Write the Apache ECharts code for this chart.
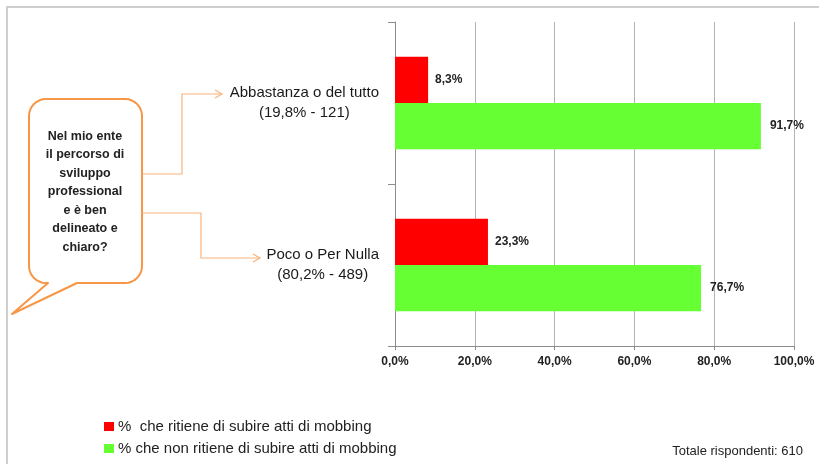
<!DOCTYPE html>
<html>
<head>
<meta charset="utf-8">
<script src="https://cdn.jsdelivr.net/npm/echarts@6/dist/echarts.min.js"></script>
<style>
html,body{margin:0;padding:0;background:#fff;}
#c{width:819px;height:464px;}
</style>
</head>
<body>
<div id="c"></div>
<script>
var categories = ['Abbastanza o del tutto', 'Poco o Per Nulla'];
var categorySub = ['(19,8% - 121)', '(80,2% - 489)'];
var seriesNames = ['%  che ritiene di subire atti di mobbing', '% che non ritiene di subire atti di mobbing'];
var mobbingYes = [8.3, 23.3];
var mobbingNo = [91.7, 76.7];
var xTicks = [0, 20, 40, 60, 80, 100];
var bubbleText = ['Nel mio ente', 'il percorso di', 'sviluppo', 'professional', 'e è ben', 'delineato e', 'chiaro?'];
var totalText = 'Totale rispondenti: 610';

var FONT = 'Liberation Sans, Arial, sans-serif';
var ORANGE = '#F79646';
var LINEOR = '#F9B37A';

function fmtPct(v) { return v.toFixed(1).replace('.', ',') + '%'; }

var labelsFull = categories.map(function (c, i) { return c + '\n' + categorySub[i]; });

// speech bubble outline (rounded rect + tail)
function bubblePoints(x0, y0, x1, y1, r, tail) {
  var pts = [];
  function arc(cx, cy, a0, a1) {
    var n = 8;
    for (var k = 0; k <= n; k++) {
      var a = a0 + (a1 - a0) * k / n;
      pts.push([cx + r * Math.cos(a), cy + r * Math.sin(a)]);
    }
  }
  var P = Math.PI;
  arc(x0 + r, y0 + r, P, 1.5 * P);
  arc(x1 - r, y0 + r, 1.5 * P, 2 * P);
  arc(x1 - r, y1 - r, 0, 0.5 * P);
  pts.push([tail[2], y1]);
  pts.push([tail[0], tail[1]]);
  pts.push([tail[3], y1]);
  arc(x0 + r, y1 - r, 0.5 * P, P);
  return pts;
}

var chart = echarts.init(document.getElementById('c'), null, {renderer: 'canvas'});

function arrow(x, y) {
  return {
    type: 'polyline', silent: true,
    shape: {points: [[x - 7, y - 4], [x, y], [x - 7, y + 4]]},
    style: {stroke: LINEOR, lineWidth: 1.2, fill: null}
  };
}

var option = {
  backgroundColor: '#fff',
  animation: false,
  textStyle: {fontFamily: FONT},
  grid: {left: 395, right: 25, top: 22, bottom: 118, containLabel: false},
  legend: {
    orient: 'vertical',
    left: 99,
    top: 414,
    itemGap: 7,
    icon: 'rect',
    itemWidth: 10,
    itemHeight: 9,
    data: seriesNames,
    textStyle: {fontSize: 15, color: '#222', fontFamily: FONT, padding: [0, 0, 0, -1]},
    selectedMode: false
  },
  xAxis: {
    type: 'value',
    min: xTicks[0],
    max: xTicks[xTicks.length - 1],
    interval: 20,
    axisLine: {show: true, lineStyle: {color: '#8c8c8c', width: 1}},
    axisTick: {show: true, length: 4, lineStyle: {color: '#8c8c8c'}},
    splitLine: {show: true, lineStyle: {color: '#b4b4b4', width: 1}},
    axisLabel: {
      formatter: function (v) { return fmtPct(v); },
      fontSize: 12, fontWeight: 'bold', color: '#222', margin: 10, fontFamily: FONT
    }
  },
  yAxis: {
    type: 'category',
    inverse: true,
    data: labelsFull,
    axisLine: {show: true, lineStyle: {color: '#8c8c8c', width: 1}},
    axisTick: {show: true, length: 7, lineStyle: {color: '#8c8c8c'}},
    axisLabel: {
      margin: 16,
      align: 'right',
      color: '#222',
      fontFamily: FONT,
      formatter: function (v) {
        var parts = v.split('\n');
        return '{a|' + parts[0] + '}\n{a|' + parts[1] + '}';
      },
      rich: {a: {align: 'center', fontSize: 15, lineHeight: 20, color: '#1a1a1a', fontFamily: FONT}}
    }
  },
  series: [
    {
      name: seriesNames[0], type: 'bar', data: mobbingYes,
      itemStyle: {color: '#FF0000'},
      barGap: '0%', barCategoryGap: '43%',
      label: {show: true, position: 'right', distance: 7, formatter: function (p) { return fmtPct(p.value); },
        fontSize: 12, fontWeight: 'bold', color: '#222', fontFamily: FONT}
    },
    {
      name: seriesNames[1], type: 'bar', data: mobbingNo,
      itemStyle: {color: '#66FF33'},
      barGap: '0%', barCategoryGap: '43%',
      label: {show: true, position: 'right', distance: 9, formatter: function (p) { return fmtPct(p.value); },
        fontSize: 12, fontWeight: 'bold', color: '#222', fontFamily: FONT}
    }
  ],
  graphic: [
    {
      type: 'rect', silent: true, z: -10,
      shape: {x: 7, y: 7, width: 840, height: 480},
      style: {fill: null, stroke: '#cfcfcf', lineWidth: 2}
    },
    {
      type: 'polygon', silent: true,
      shape: {points: bubblePoints(29, 99, 142, 283, 17, [12, 314, 77, 48])},
      style: {fill: '#fff', stroke: ORANGE, lineWidth: 2, lineJoin: 'round'}
    },
    {
      type: 'text', silent: true,
      x: 85, y: 127,
      style: {
        text: bubbleText.join('\n'),
        align: 'center', verticalAlign: 'top',
        font: 'bold 12.5px ' + FONT, fill: '#222', lineHeight: 18.5
      }
    },
    {
      type: 'polyline', silent: true,
      shape: {points: [[142, 174], [182, 174], [182, 94], [222, 94]]},
      style: {stroke: LINEOR, lineWidth: 1.2, fill: null}
    },
    arrow(222, 94),
    {
      type: 'polyline', silent: true,
      shape: {points: [[142, 213], [201, 213], [201, 258], [260, 258]]},
      style: {stroke: LINEOR, lineWidth: 1.2, fill: null}
    },
    arrow(260, 258),
    {
      type: 'text', silent: true,
      right: 16, top: 445,
      style: {text: totalText, font: '13px ' + FONT, fill: '#222'}
    }
  ]
};
chart.setOption(option);
</script>
</body>
</html>
